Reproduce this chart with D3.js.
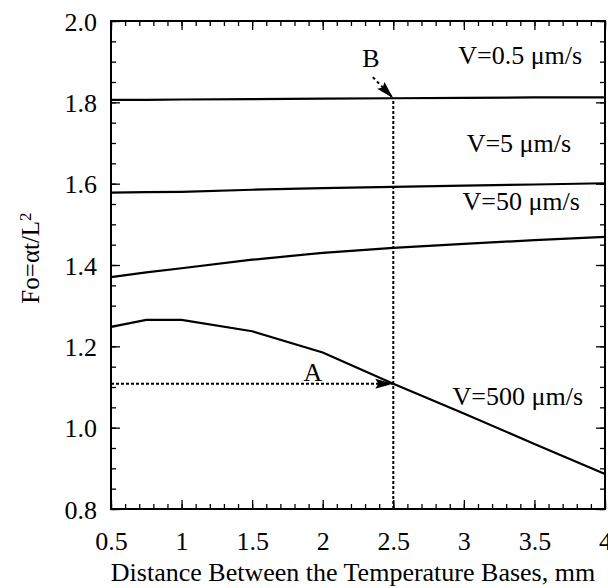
<!DOCTYPE html>
<html>
<head>
<meta charset="utf-8">
<script src="https://cdn.jsdelivr.net/npm/d3@7"></script>
<style>
  html, body { margin: 0; padding: 0; background: #fff; }
  svg { display: block; }
  text { font-family: "Liberation Serif", "Times New Roman", serif; fill: #000; }
</style>
</head>
<body>
<div id="chart"></div>
<script>
// distance between the temperature bases, mm
const distances = [0.5, 0.75, 1.0, 1.5, 2.0, 2.5, 3.0, 3.5, 4.0];

// Fo values
const foV05  = [1.806, 1.806, 1.807, 1.808, 1.809, 1.810, 1.811, 1.812, 1.812];
const foV5   = [1.578, 1.579, 1.580, 1.585, 1.589, 1.592, 1.595, 1.598, 1.601];
const foV50  = [1.370, 1.382, 1.392, 1.413, 1.430, 1.442, 1.452, 1.461, 1.469];
const foV500 = [1.248, 1.265, 1.265, 1.237, 1.185, 1.108, 1.035, 0.960, 0.886];

const seriesNames = ["V=0.5 \u03bcm/s", "V=5 \u03bcm/s", "V=50 \u03bcm/s", "V=500 \u03bcm/s"];
// where each curve's label sits (data units: x of left edge, y of baseline)
const labelX = [2.96, 3.02, 2.99, 2.92];
const labelY = [1.894, 1.678, 1.535, 1.056];

const xTicks = [0.5, 1, 1.5, 2, 2.5, 3, 3.5, 4];
const yTicks = [0.8, 1.0, 1.2, 1.4, 1.6, 1.8, 2.0];

// annotation points A and B (at 2.5 mm)
const pointA = { x: 2.5, y: 1.108, labelX: 1.93, labelY: 1.115, from: 0.5 };
const pointB = { x: 2.5, y: 1.810, labelX: 2.28, labelY: 1.886, fromX: 2.355, fromY: 1.862 };

const W = 608, H = 588;
const margin = { left: 111, top: 21, right: 3, bottom: 79 };

const svg = d3.select("#chart").append("svg")
  .attr("width", W).attr("height", H);

const x = d3.scaleLinear().domain([0.5, 4]).range([margin.left, W - margin.right]);
const y = d3.scaleLinear().domain([0.8, 2.0]).range([H - margin.bottom, margin.top]);

const x0 = x.range()[0], x1 = x.range()[1];
const y0 = y.range()[0], y1 = y.range()[1];

// arrow head
svg.append("defs").append("marker")
  .attr("id", "head")
  .attr("markerUnits", "userSpaceOnUse")
  .attr("viewBox", "0 0 18 12")
  .attr("refX", 18).attr("refY", 6)
  .attr("markerWidth", 18).attr("markerHeight", 12)
  .attr("orient", "auto")
  .append("path")
  .attr("d", "M0,1 L18,6 L0,11 L3,6 Z")
  .attr("fill", "#000");

// minor + major ticks on all four sides, pointing inward
const minorX = d3.range(5, 41).map(d => d / 10);
const minorY = d3.range(16, 41).map(d => d / 20);

function tickAxis(axisFn, scale, values, size) {
  return axisFn(scale).tickValues(values).tickSize(-size).tickFormat("");
}

svg.append("g").attr("transform", `translate(0,${y0})`)
  .call(tickAxis(d3.axisBottom, x, minorX, 5));
svg.append("g").attr("transform", `translate(0,${y1})`)
  .call(tickAxis(d3.axisTop, x, minorX, 5));
svg.append("g").attr("transform", `translate(${x0},0)`)
  .call(tickAxis(d3.axisLeft, y, minorY, 5));
svg.append("g").attr("transform", `translate(${x1},0)`)
  .call(tickAxis(d3.axisRight, y, minorY, 5));
svg.append("g").attr("transform", `translate(0,${y1})`)
  .call(tickAxis(d3.axisTop, x, xTicks, 9));
svg.append("g").attr("transform", `translate(${x1},0)`)
  .call(tickAxis(d3.axisRight, y, yTicks, 9));

const xAxis = svg.append("g").attr("transform", `translate(0,${y0})`)
  .call(d3.axisBottom(x).tickValues(xTicks).tickSize(-9).tickPadding(23)
    .tickFormat(d => String(d)));
const yAxis = svg.append("g").attr("transform", `translate(${x0},0)`)
  .call(d3.axisLeft(y).tickValues(yTicks).tickSize(-9).tickPadding(14)
    .tickFormat(d3.format(".1f")));

svg.selectAll(".domain").remove();
svg.selectAll(".tick line").attr("stroke", "#000").attr("stroke-width", 1.3);
xAxis.selectAll("text").attr("font-size", 26).attr("dy", "0.71em")
  .style("font-family", "'Liberation Serif', serif");
yAxis.selectAll("text").attr("font-size", 26).attr("dy", "0.35em")
  .style("font-family", "'Liberation Serif', serif");

// frame
svg.append("rect")
  .attr("x", x0).attr("y", y1)
  .attr("width", x1 - x0).attr("height", y0 - y1)
  .attr("fill", "none").attr("stroke", "#000").attr("stroke-width", 2);

// curves
const line = d3.line().x(d => x(d[0])).y(d => y(d[1]));
[foV05, foV5, foV50, foV500].forEach((vals, i) => {
  svg.append("path")
    .datum(distances.map((d, j) => [d, vals[j]]))
    .attr("d", line)
    .attr("fill", "none")
    .attr("stroke", "#000")
    .attr("stroke-width", 2.2);

  svg.append("text")
    .attr("x", x(labelX[i]))
    .attr("y", y(labelY[i]))
    .attr("font-size", 26)
    .text(seriesNames[i]);
});

// dotted guide lines
svg.append("line")
  .attr("x1", x(pointB.x)).attr("x2", x(pointB.x))
  .attr("y1", y0).attr("y2", y(pointB.y))
  .attr("stroke", "#000").attr("stroke-width", 2)
  .attr("stroke-dasharray", "3,2");

svg.append("line")
  .attr("x1", x(pointA.from)).attr("x2", x(pointA.x))
  .attr("y1", y(pointA.y)).attr("y2", y(pointA.y))
  .attr("stroke", "#000").attr("stroke-width", 2)
  .attr("stroke-dasharray", "3,2")
  .attr("marker-end", "url(#head)");

svg.append("line")
  .attr("x1", x(pointB.fromX)).attr("x2", x(pointB.x))
  .attr("y1", y(pointB.fromY)).attr("y2", y(pointB.y))
  .attr("stroke", "#000").attr("stroke-width", 2)
  .attr("stroke-dasharray", "3,3")
  .attr("marker-end", "url(#head)");

svg.append("text").attr("x", x(pointA.labelX)).attr("y", y(pointA.labelY))
  .attr("font-size", 26).attr("text-anchor", "middle").text("A");
svg.append("text").attr("x", x(pointB.labelX)).attr("y", y(pointB.labelY))
  .attr("font-size", 26).text("B");

// axis titles
svg.append("text")
  .attr("x", 353).attr("y", 581)
  .attr("font-size", 26).attr("text-anchor", "middle")
  .text("Distance Between the Temperature Bases, mm");

const yTitle = svg.append("text")
  .attr("transform", `translate(39,258) rotate(-90)`)
  .attr("font-size", 25).attr("text-anchor", "middle");
yTitle.append("tspan").text("Fo=\u03b1t/L");
yTitle.append("tspan").attr("dy", "-0.45em").attr("font-size", 17).text("2");
</script>
</body>
</html>
